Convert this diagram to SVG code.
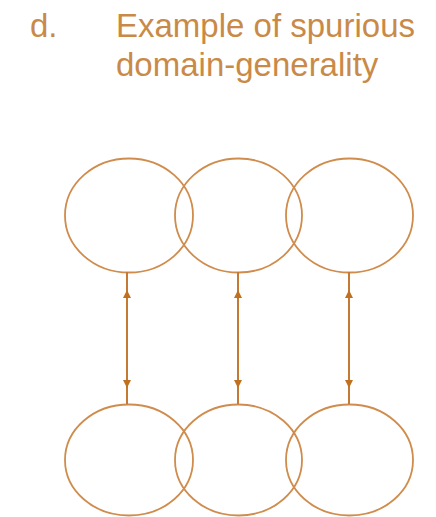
<svg xmlns="http://www.w3.org/2000/svg" width="436" height="517" viewBox="0 0 436 517">
  <style>
    .lbl { font-family: "Liberation Sans", Arial, sans-serif; font-size: 33px; fill: #c98a48; }
    .ring { fill: none; stroke: #cf8c4c; stroke-width: 1.8; }
    .link { fill: none; stroke: #c57a33; stroke-width: 2; }
  </style>
  <defs>
    <marker id="tip" viewBox="0 0 10 10" refX="10" refY="5" markerUnits="userSpaceOnUse" markerWidth="9" markerHeight="8" orient="auto-start-reverse">
      <path d="M0,0 L10,5 L0,10 z" fill="#c0711f"/>
    </marker>
  </defs>

  <g id="title">
    <text class="lbl" x="30" y="37">d.</text>
    <text class="lbl" x="116" y="37">Example of spurious</text>
    <text class="lbl" x="116" y="76">domain-generality</text>
  </g>

  <g id="top-row">
    <g id="top-left"><ellipse class="ring" cx="129" cy="215.5" rx="64" ry="57"/></g>
    <g id="top-mid"><ellipse class="ring" cx="238.5" cy="215.5" rx="63.5" ry="57"/></g>
    <g id="top-right"><ellipse class="ring" cx="349.5" cy="215.5" rx="63.5" ry="57"/></g>
  </g>

  <g id="bottom-row">
    <g id="bottom-left"><ellipse class="ring" cx="129" cy="460" rx="64" ry="55.5"/></g>
    <g id="bottom-mid"><ellipse class="ring" cx="238.5" cy="460" rx="63.5" ry="55.5"/></g>
    <g id="bottom-right"><ellipse class="ring" cx="349.5" cy="460" rx="63.5" ry="55.5"/></g>
  </g>

  <g id="connectors">
    <line class="link" x1="127" y1="272" x2="127" y2="404"/>
    <line class="link" x1="127" y1="290" x2="127" y2="388" marker-start="url(#tip)" marker-end="url(#tip)"/>
    <line class="link" x1="238" y1="272" x2="238" y2="404"/>
    <line class="link" x1="238" y1="290" x2="238" y2="388" marker-start="url(#tip)" marker-end="url(#tip)"/>
    <line class="link" x1="349" y1="272" x2="349" y2="404"/>
    <line class="link" x1="349" y1="290" x2="349" y2="388" marker-start="url(#tip)" marker-end="url(#tip)"/>
  </g>
</svg>
